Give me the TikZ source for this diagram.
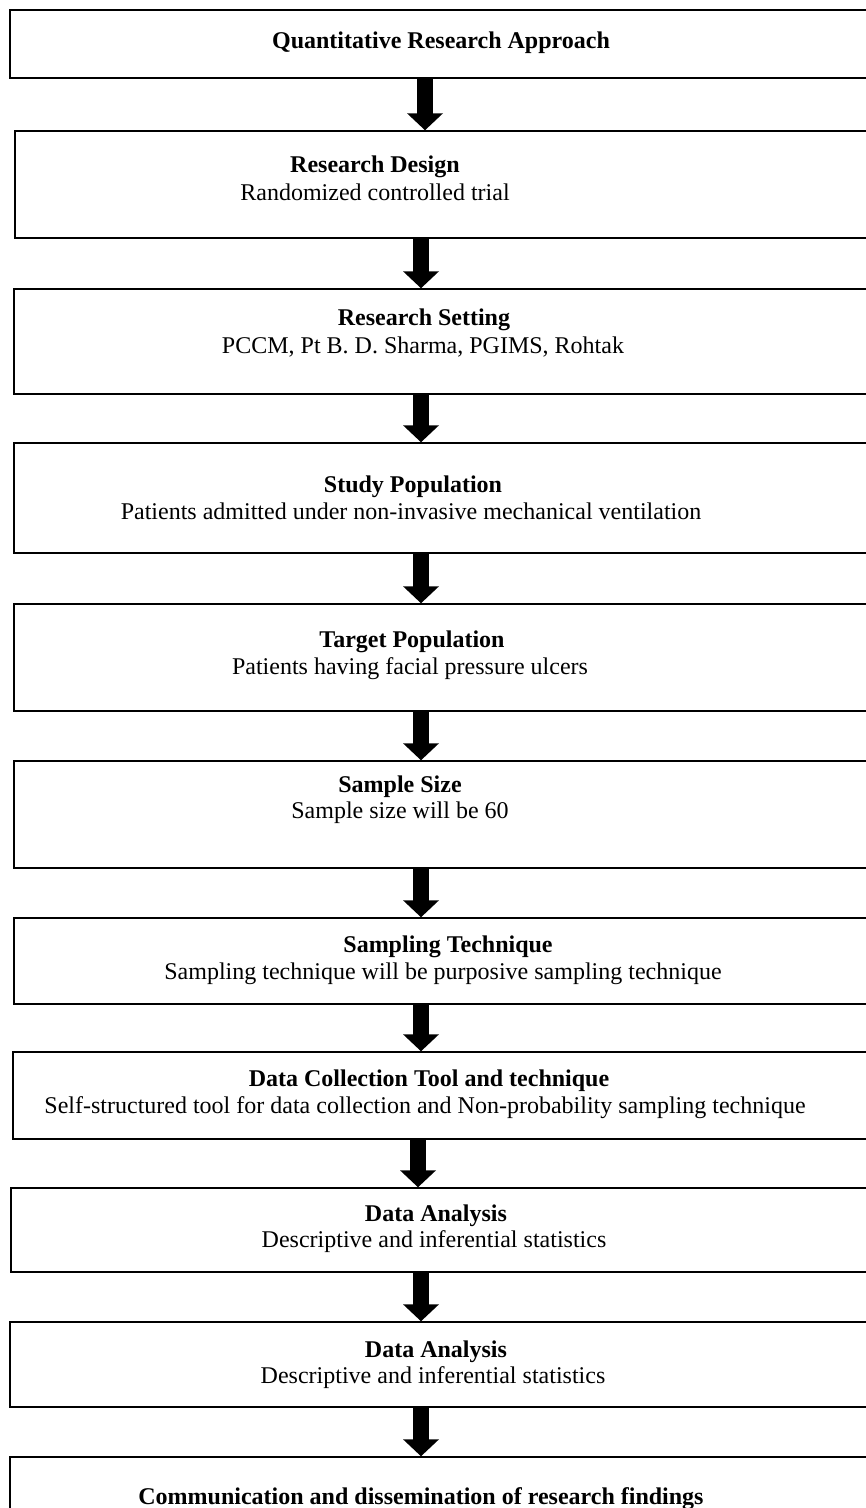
\documentclass[tikz,border=0pt]{standalone}
\usepackage{fontspec}
\setmainfont{Liberation Serif}
\usetikzlibrary{arrows.meta,fit}
\begin{document}
\begin{tikzpicture}[x=0.5pt,y=-0.5pt,
  box/.style={draw=black,line width=0.7pt,inner sep=0pt,rectangle},
  ttl/.style={anchor=base,font=\fontsize{12pt}{14pt}\selectfont\bfseries,inner sep=0pt},
  sub/.style={anchor=base,font=\fontsize{12pt}{14pt}\selectfont,inner sep=0pt},
  bigarrow/.style={line width=8pt,draw=black,-{Triangle[width=17.5pt,length=8.5pt]}}]
\useasboundingbox (0,0) rectangle (866,1508);
% boxes
\node[box,fit={(10,10) (885,78)}] (b1) {};
\node[box,fit={(15,131) (885,238)}] (b2) {};
\node[box,fit={(14,289) (885,394)}] (b3) {};
\node[box,fit={(14,443) (885,553)}] (b4) {};
\node[box,fit={(14,604) (885,711)}] (b5) {};
\node[box,fit={(14,761) (885,868)}] (b6) {};
\node[box,fit={(14,918) (885,1004)}] (b7) {};
\node[box,fit={(13,1052) (885,1139)}] (b8) {};
\node[box,fit={(11,1188) (885,1272)}] (b9) {};
\node[box,fit={(10,1322) (885,1407)}] (b10) {};
\node[box,fit={(10,1457) (885,1530)}] (b11) {};
% texts
\node[ttl] (t1) at (441,49) {Quantitative Research Approach};
\node[ttl] (t2) at (375,173) {Research Design};
\node[sub] (s2) at (375,201) {Randomized controlled trial};
\node[ttl] (t3) at (424,326) {Research Setting};
\node[sub] (s3) at (423,353) {PCCM, Pt B. D. Sharma, PGIMS, Rohtak};
\node[ttl] (t4) at (413,492) {Study Population};
\node[sub] (s4) at (411,519) {Patients admitted under non-invasive mechanical ventilation};
\node[ttl] (t5) at (412,647) {Target Population};
\node[sub] (s5) at (410,674) {Patients having facial pressure ulcers};
\node[ttl] (t6) at (400,792) {Sample Size};
\node[sub] (s6) at (400,818) {Sample size will be 60};
\node[ttl] (t7) at (448,952) {Sampling Technique};
\node[sub] (s7) at (443,979) {Sampling technique will be purposive sampling technique};
\node[ttl] (t8) at (429,1086) {Data Collection Tool and technique};
\node[sub] (s8) at (425,1113) {Self-structured tool for data collection and Non-probability sampling technique};
\node[ttl] (t9) at (436,1221) {Data Analysis};
\node[sub] (s9) at (434,1247) {Descriptive and inferential statistics};
\node[ttl] (t10) at (436,1357) {Data Analysis};
\node[sub] (s10) at (433,1383) {Descriptive and inferential statistics};
\node[ttl] (t11) at (421,1504) {Communication and dissemination of research findings};
% arrow axes
\coordinate (xa) at (425,0);
\coordinate (xb) at (421,0);
\coordinate (xc) at (418,0);
% arrows
\draw[bigarrow] (b1.south -| xa) -- (b2.north -| xa);
\draw[bigarrow] (b2.south -| xb) -- (b3.north -| xb);
\draw[bigarrow] (b3.south -| xb) -- (b4.north -| xb);
\draw[bigarrow] (b4.south -| xb) -- (b5.north -| xb);
\draw[bigarrow] (b5.south -| xb) -- (b6.north -| xb);
\draw[bigarrow] (b6.south -| xb) -- (b7.north -| xb);
\draw[bigarrow] (b7.south -| xb) -- (b8.north -| xb);
\draw[bigarrow] (b8.south -| xc) -- (b9.north -| xc);
\draw[bigarrow] (b9.south -| xb) -- (b10.north -| xb);
\draw[bigarrow] (b10.south -| xb) -- (b11.north -| xb);
\end{tikzpicture}
\end{document}
